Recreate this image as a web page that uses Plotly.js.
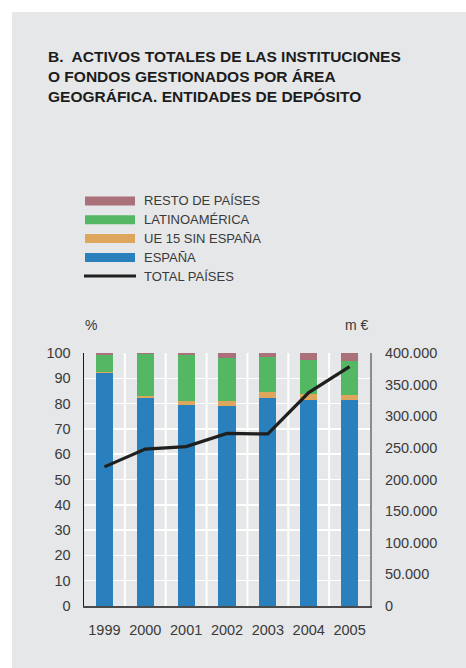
<!DOCTYPE html>
<html><head><meta charset="utf-8">
<script src="https://cdn.plot.ly/plotly-3.0.1.min.js"></script>
<style>
html,body{margin:0;padding:0;background:#fff;}
#chart{position:absolute;left:12px;top:12px;width:454px;height:656px;}
</style></head><body><div id="chart"></div>
<script>
// ---- data ----
const years = [1999, 2000, 2001, 2002, 2003, 2004, 2005];
const yearLabels = ['1999','2000','2001','2002','2003','2004','2005'];
const espana = [92.1, 82.1, 79.3, 78.9, 82.1, 81.3, 81.3];
const ue15   = [0.4, 0.8, 1.6, 2.0, 2.4, 2.4, 2.0];
const latam  = [6.6, 16.6, 18.2, 17.0, 13.9, 13.4, 13.4];
const resto  = [0.9, 0.5, 0.9, 2.1, 1.6, 2.9, 3.3];
const totalPaises = [220000, 248000, 252000, 272800, 272000, 337500, 378500];

const seriesNames = ['ESPAÑA','UE 15 SIN ESPAÑA','LATINOAMÉRICA','RESTO DE PAÍSES'];
const lineName = 'TOTAL PAÍSES';
const titleLines = ['B.  ACTIVOS TOTALES DE LAS INSTITUCIONES','O FONDOS GESTIONADOS POR ÁREA','GEOGRÁFICA. ENTIDADES DE DEPÓSITO'];
const leftUnit = '%';
const rightUnit = 'm €';
const pctRange = [0, 100];

// ---- styles ----
const colors = ['#2a80bd','#dea55c','#53b763','#ab717b'];
const lineColor = '#1f1f1f';
const bg = '#e6e7e8';
const font = 'Liberation Sans, Arial, Helvetica, sans-serif';
const txt = '#3a3a3a';

// page-pixel -> paper helpers (div is offset by 12px)
const PL=84, PR=370, PT=353, PB=606;
const px = x => (x-PL)/(PR-PL);
const py = y => (PB-y)/(PB-PT);

const values = [espana, ue15, latam, resto];
const traces = values.map((v,i)=>({
  type:'bar', x:years, y:v, name:seriesNames[i],
  marker:{color:colors[i], line:{width:0}}, width:0.42,
  showlegend:false, hoverinfo:'skip'
}));
traces.push({
  type:'scatter', mode:'lines', x:years, y:totalPaises, yaxis:'y2', name:lineName,
  line:{color:lineColor, width:3.2}, showlegend:false, hoverinfo:'skip'
});

const shapes = [], annotations = [];

// vertical grid at category boundaries (white, under the bars)
years.slice(1).forEach(y => {
  shapes.push({type:'line', xref:'x', yref:'y', x0:y-0.5, x1:y-0.5, y0:pctRange[0], y1:pctRange[1],
    line:{color:'#ffffff', width:2}, layer:'below'});
});

// custom legend (shapes + text), top to bottom
const legendOrder = [3,2,1,0];
const rowY = [201, 219.8, 238.6, 257.4, 276.0];
legendOrder.forEach((si,k)=>{
  const cy=rowY[k];
  shapes.push({type:'rect', xref:'paper', yref:'paper', x0:px(85), x1:px(135), y0:py(cy+4.5), y1:py(cy-4.5),
    fillcolor:colors[si], line:{width:0}});
  annotations.push({xref:'paper', yref:'paper', x:px(141.5), y:py(cy), xanchor:'left', yanchor:'middle',
    text:seriesNames[si], showarrow:false, font:{family:font, size:13, color:txt}});
});
shapes.push({type:'line', xref:'paper', yref:'paper', x0:px(84), x1:px(136), y0:py(rowY[4]), y1:py(rowY[4]),
  line:{color:lineColor, width:2.8}});
annotations.push({xref:'paper', yref:'paper', x:px(141.5), y:py(rowY[4]), xanchor:'left', yanchor:'middle',
  text:lineName, showarrow:false, font:{family:font, size:13, color:txt}});
// units
annotations.push({xref:'paper', yref:'paper', x:px(90.5), y:py(325), xanchor:'center', yanchor:'middle',
  text:leftUnit, showarrow:false, font:{family:font, size:14, color:txt}});
annotations.push({xref:'paper', yref:'paper', x:px(356.5), y:py(325), xanchor:'center', yanchor:'middle',
  text:rightUnit, showarrow:false, font:{family:font, size:14, color:txt}});

const layout = {
  width:454, height:656,
  paper_bgcolor:bg, plot_bgcolor:bg,
  margin:{l:72, r:96, t:341, b:62, autoexpand:false},
  barmode:'stack',
  separators:',.',
  showlegend:false,
  title:{text:titleLines.join('<br>'), x:(48-12)/454, xref:'container', xanchor:'left',
    y:1-(62-12)/656, yref:'container', yanchor:'top',
    font:{family:font, size:15.5, color:'#1c1c1c', weight:'bold'}},
  xaxis:{type:'linear', range:[1998.5,2005.5], tickmode:'array', tickvals:years, ticktext:yearLabels, showgrid:false,
    showline:true, linecolor:'#4a4a4a', linewidth:1.5, ticks:'', ticklabelstandoff:10, zeroline:false,
    tickfont:{family:font, size:14.5, color:txt}, fixedrange:true},
  yaxis:{range:pctRange, dtick:10, showgrid:true, gridcolor:'#ffffff', gridwidth:1.5, zeroline:false,
    showline:true, linecolor:'#1a1a1a', linewidth:1.5, ticks:'', ticklabelstandoff:9,
    tickfont:{family:font, size:14.5, color:txt}, fixedrange:true},
  yaxis2:{overlaying:'y', side:'right', range:[0,400000], dtick:50000, tickformat:',',
    showgrid:false, zeroline:false, showline:true, linecolor:'#8c8c8c', linewidth:2, ticks:'',
    ticklabelstandoff:10, tickfont:{family:font, size:14.5, color:txt}, fixedrange:true},
  shapes:shapes, annotations:annotations
};
Plotly.newPlot('chart', traces, layout, {staticPlot:true, displayModeBar:false});
</script></body></html>
